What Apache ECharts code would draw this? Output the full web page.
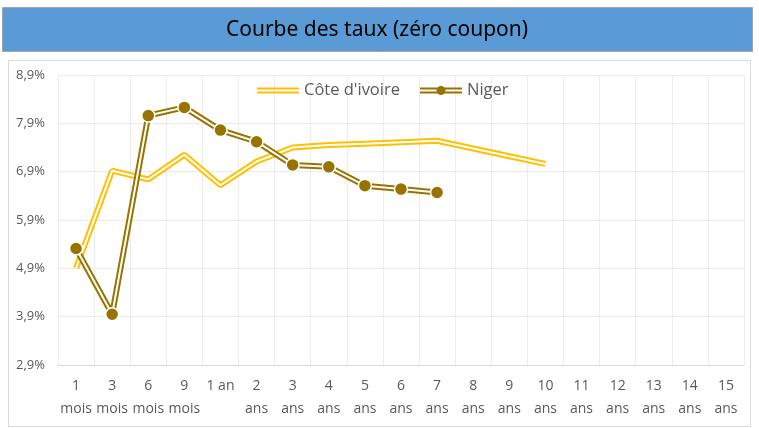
<!DOCTYPE html>
<html>
<head>
<meta charset="utf-8">
<script src="https://cdn.jsdelivr.net/npm/echarts@6/dist/echarts.min.js"></script>
<style>
    html, body { margin: 0; padding: 0; background: #fff; }
    #chart { width: 759px; height: 428px; }
</style>
</head>
<body>
<div id="chart"></div>
<script>
    // maturités
    var categories = ['1\nmois', '3\nmois', '6\nmois', '9\nmois', '1 an', '2\nans', '3\nans', '4\nans', '5\nans',
        '6\nans', '7\nans', '8\nans', '9\nans', '10\nans', '11\nans', '12\nans', '13\nans', '14\nans', '15\nans'];
    // taux zéro coupon en %
    var coteIvoire = [4.90, 6.92, 6.74, 7.25, 6.62, 7.11, 7.40, 7.45, 7.48, 7.51, 7.54, 7.38, 7.22, 7.06,
        null, null, null, null, null];
    var niger = [5.31, 3.95, 8.06, 8.23, 7.76, 7.52, 7.04, 7.00, 6.61, 6.54, 6.47,
        null, null, null, null, null, null, null, null];
    var yTicks = [2.9, 3.9, 4.9, 5.9, 6.9, 7.9, 8.9];

    var gold = '#FFC000';
    var darkGold = '#997300';

    var myChart = echarts.init(document.getElementById('chart'));
    myChart.setOption({
        animation: false,
        graphic: [
            {
                type: 'rect',
                shape: { x: 8.5, y: 60.5, width: 742, height: 366 },
                style: { fill: '#fff', stroke: '#d9d9d9', lineWidth: 1 },
                z: -10
            },
            {
                type: 'rect',
                shape: { x: 2.5, y: 7.5, width: 750, height: 44 },
                style: { fill: '#5B9BD5', stroke: '#a5a5a5', lineWidth: 1 }
            },
            {
                type: 'text',
                x: 377,
                y: 30,
                style: {
                    text: 'Courbe des taux (zéro coupon)',
                    fill: '#000',
                    font: '21px "Noto Sans"',
                    align: 'center',
                    verticalAlign: 'middle'
                }
            }
        ],
        legend: {
            left: 252,
            top: 77,
            itemWidth: 42,
            itemHeight: 10,
            itemGap: 20,
            textStyle: { color: '#595959', fontSize: 16.5, fontFamily: 'Open Sans' },
            itemStyle: { borderWidth: 0 },
            data: [
                { name: "Côte d'ivoire", icon: 'path://M0,2H42V4H0Z M0,6H42V8H0Z' },
                { name: 'Niger', icon: 'path://M0,2H42V4H0Z M0,6H42V8H0Z M16.5,5A4.5,4.5 0 1,1 25.5,5A4.5,4.5 0 1,1 16.5,5Z' }
            ]
        },
        grid: {
            left: 58,
            right: 15,
            top: 75,
            bottom: 63
        },
        xAxis: {
            type: 'category',
            data: categories,
            boundaryGap: true,
            axisLine: { lineStyle: { color: '#d9d9d9' } },
            axisTick: { show: false },
            splitLine: { show: true, lineStyle: { color: '#ececec' } },
            axisLabel: {
                interval: 0,
                color: '#595959',
                fontSize: 14,
                fontFamily: 'Open Sans',
                lineHeight: 23,
                margin: 10
            }
        },
        yAxis: {
            type: 'value',
            min: yTicks[0],
            max: yTicks[yTicks.length - 1],
            interval: 1,
            axisLine: { show: false },
            axisTick: { show: false },
            splitLine: { lineStyle: { color: '#ececec' } },
            axisLabel: {
                color: '#595959',
                fontSize: 13,
                fontFamily: 'Open Sans',
                margin: 13,
                formatter: function (v) {
                    return v.toFixed(1).replace('.', ',') + '%';
                }
            }
        },
        series: [
            {
                name: "Côte d'ivoire",
                type: 'line',
                data: coteIvoire,
                symbol: 'none',
                itemStyle: { color: gold },
                lineStyle: { color: gold, width: 6 }
            },
            {
                name: 'ci-inner',
                type: 'line',
                data: coteIvoire,
                symbol: 'none',
                silent: true,
                lineStyle: { color: '#fff', width: 2 }
            },
            {
                name: 'Niger',
                type: 'line',
                data: niger,
                symbol: 'none',
                itemStyle: { color: darkGold },
                lineStyle: { color: darkGold, width: 6 }
            },
            {
                name: 'niger-inner',
                type: 'line',
                data: niger,
                symbol: 'none',
                silent: true,
                lineStyle: { color: '#fff', width: 2 }
            },
            {
                name: 'niger-points',
                type: 'line',
                data: niger,
                symbol: 'circle',
                symbolSize: 13,
                showAllSymbol: true,
                lineStyle: { width: 0, opacity: 0 },
                itemStyle: { color: darkGold, borderColor: '#fff', borderWidth: 1.5 }
            }
        ]
    });
</script>
</body>
</html>
